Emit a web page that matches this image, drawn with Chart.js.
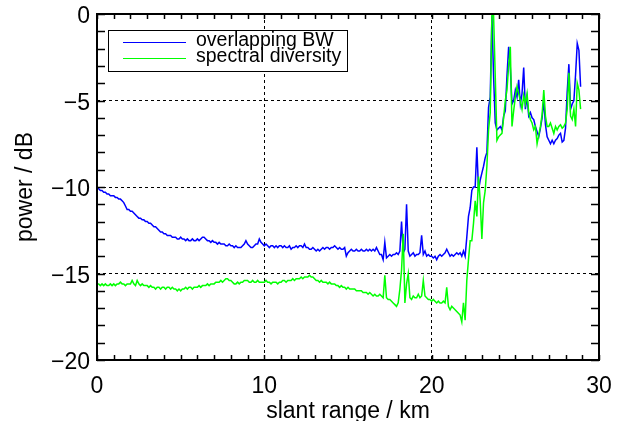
<!DOCTYPE html>
<html>
<head>
<meta charset="utf-8">
<script src="https://cdn.jsdelivr.net/npm/chart.js@4.4.1/dist/chart.umd.min.js"></script>
<style>
  html, body { margin: 0; padding: 0; background: #fff; }
  #wrap { width: 625px; height: 421px; }
</style>
</head>
<body>
<div id="wrap"><canvas id="powerChart" width="625" height="421"></canvas></div>
<script>
// samples every 0.1 km, one row per km (0.0 ... 28.9 km)
var sampleStepKm = 0.1;

var seriesNames = ['overlapping BW', 'spectral diversity'];

var overlapBwDb = [
  -10.0, -10.1, -10.2, -10.2, -10.3, -10.3, -10.4, -10.4, -10.5, -10.5,
  -10.5, -10.6, -10.6, -10.7, -10.7, -10.8, -10.9, -11.1, -11.3, -11.3,
  -11.4, -11.4, -11.5, -11.6, -11.7, -11.8, -11.8, -11.9, -11.9, -12.0,
  -12.0, -12.1, -12.1, -12.2, -12.3, -12.3, -12.4, -12.5, -12.6, -12.6,
  -12.7, -12.7, -12.8, -12.8, -12.8, -12.9, -12.9, -12.9, -13.0, -13.0,
  -12.9, -13.0, -13.0, -13.1, -13.0, -13.1, -13.1, -13.0, -13.1, -13.1,
  -13.0, -13.1, -13.0, -12.9, -12.9, -13.0, -13.1, -13.1, -13.2, -13.1,
  -13.2, -13.2, -13.3, -13.2, -13.3, -13.3, -13.3, -13.4, -13.4, -13.3,
  -13.4, -13.4, -13.5, -13.4, -13.5, -13.5, -13.5, -13.4, -13.3, -13.1,
  -13.3, -13.4, -13.5, -13.5, -13.4, -13.3, -13.3, -13.0, -13.2, -13.3,
  -13.4, -13.3, -13.4, -13.5, -13.4, -13.4, -13.5, -13.4, -13.5, -13.4,
  -13.4, -13.5, -13.4, -13.5, -13.5, -13.4, -13.6, -13.5, -13.5, -13.4,
  -13.5, -13.4, -13.4, -13.5, -13.3, -13.5, -13.5, -13.6, -13.6, -13.5,
  -13.6, -13.7, -13.6, -13.7, -13.6, -13.5, -13.6, -13.5, -13.5, -13.6,
  -13.5, -13.5, -13.4, -13.5, -13.6, -13.5, -13.6, -13.6, -13.5, -14.0,
  -13.8, -13.7, -13.6, -13.7, -13.7, -13.6, -13.7, -13.7, -13.6, -13.7,
  -13.7, -13.6, -13.7, -13.6, -13.7, -13.6, -13.7, -13.5, -13.7, -13.9,
  -13.9, -14.2, -13.2, -14.1, -14.0, -13.9, -14.0, -13.9, -13.9, -13.8,
  -13.9, -13.7, -12.0, -13.8, -13.6, -11.0, -13.7, -14.0, -13.9, -13.8,
  -14.0, -13.9, -13.9, -13.8, -12.8, -13.9, -13.7, -14.0, -13.9, -14.0,
  -14.0, -14.1, -14.0, -14.2, -14.0, -13.9, -14.0, -13.9, -13.8, -13.6,
  -13.8, -14.0, -13.9, -14.0, -13.9, -13.8, -13.9, -13.8, -14.0, -13.7,
  -14.0, -12.9, -11.7, -11.2, -10.2, -10.0, -10.0, -7.7, -10.2, -9.6,
  -9.2, -8.8, -8.3, -8.0, -5.4, -4.8, -0.1, -3.6, -6.3, -6.7,
  -6.6, -6.5, -6.7, -5.9, -5.6, -3.6, -1.9, -3.1, -5.2, -5.0,
  -4.4, -4.8, -3.8, -5.2, -4.6, -3.1, -5.5, -4.8, -5.9, -5.7,
  -6.0, -6.1, -6.5, -6.8, -7.1, -6.6, -6.0, -5.0, -6.4, -7.1,
  -7.3, -7.5, -7.3, -7.5, -7.3, -7.2, -7.0, -6.9, -7.4, -7.3,
  -6.6, -4.5, -2.9, -5.5, -5.2, -5.0, -3.5, -1.7, -2.1, -4.2
];

var spectralDivDb = [
  -15.6, -15.6, -15.7, -15.6, -15.7, -15.6, -15.7, -15.7, -15.6, -15.7,
  -15.6, -15.7, -15.6, -15.6, -15.5, -15.6, -15.6, -15.7, -15.6, -15.6,
  -15.6, -15.4, -15.6, -15.7, -15.4, -15.6, -15.7, -15.6, -15.7, -15.7,
  -15.7, -15.8, -15.7, -15.8, -15.8, -15.9, -15.8, -15.8, -15.9, -15.8,
  -15.8, -15.9, -15.8, -15.8, -15.9, -15.8, -15.9, -15.9, -16.0, -15.9,
  -16.0, -15.9, -15.9, -15.8, -15.9, -15.8, -15.8, -15.9, -15.8, -15.8,
  -15.8, -15.7, -15.8, -15.7, -15.7, -15.7, -15.6, -15.7, -15.6, -15.6,
  -15.6, -15.5, -15.5, -15.5, -15.4, -15.5, -15.4, -15.3, -15.3, -15.4,
  -15.4, -15.5, -15.6, -15.6, -15.5, -15.6, -15.5, -15.5, -15.4, -15.4,
  -15.4, -15.5, -15.5, -15.4, -15.5, -15.5, -15.4, -15.5, -15.5, -15.5,
  -15.5, -15.4, -15.5, -15.5, -15.6, -15.5, -15.5, -15.5, -15.6, -15.5,
  -15.5, -15.4, -15.4, -15.5, -15.4, -15.4, -15.4, -15.3, -15.4, -15.3,
  -15.3, -15.3, -15.2, -15.3, -15.2, -15.2, -15.2, -15.1, -15.2, -15.2,
  -15.3, -15.4, -15.4, -15.5, -15.4, -15.5, -15.5, -15.5, -15.6, -15.5,
  -15.6, -15.6, -15.6, -15.7, -15.7, -15.8, -15.7, -15.8, -15.8, -15.9,
  -15.8, -15.9, -15.9, -15.9, -15.9, -16.0, -16.0, -16.0, -16.0, -16.1,
  -16.1, -16.1, -16.2, -16.1, -16.2, -16.3, -16.2, -16.3, -16.3, -16.2,
  -16.3, -16.4, -15.1, -16.4, -16.5, -16.5, -16.6, -16.7, -16.8, -16.9,
  -16.7, -15.9, -14.8, -12.7, -16.7, -15.6, -15.0, -16.4, -16.5, -16.3,
  -16.4, -16.4, -16.2, -16.4, -16.3, -15.4, -16.3, -16.4, -16.5, -16.5,
  -16.6, -16.5, -16.6, -16.7, -16.6, -16.7, -16.7, -16.6, -16.7, -15.8,
  -16.9, -17.1, -16.9, -17.0, -17.1, -17.2, -17.3, -17.4, -17.8, -16.7,
  -17.7, -15.4, -14.2, -13.1, -13.1, -12.1, -10.8, -11.7, -9.4, -10.8,
  -13.0, -10.9, -10.2, -8.8, -6.7, -5.7, -0.1, -0.1, -3.6, -7.3,
  -7.1, -7.0, -6.9, -6.0, -5.0, -4.4, -3.0, -1.9, -6.5, -5.6,
  -4.8, -4.2, -4.6, -5.0, -5.5, -4.7, -5.2, -4.6, -5.7, -6.1,
  -6.3, -6.7, -6.5, -7.5, -7.0, -6.5, -5.8, -4.4, -5.9, -6.5,
  -6.5, -6.3, -6.6, -6.9, -6.5, -6.7, -6.5, -6.4, -6.6, -6.5,
  -6.3, -5.5, -3.4, -5.9, -6.1, -5.5, -6.5, -4.0, -4.4, -5.5
];

var xTickValues = [0, 10, 20, 30];
var yTickValues = [-20, -15, -10, -5, 0];

var FONT = "'Liberation Sans', Arial, Helvetica, sans-serif";

function toPoints(values) {
  return values.map(function (v, i) {
    return { x: Math.round(i * sampleStepKm * 10) / 10, y: v };
  });
}

// frame, inward minor ticks and the boxed legend
var framePlugin = {
  id: 'idlFrame',
  afterDatasetsDraw: function (chart) {
    var ctx = chart.ctx;
    var a = chart.chartArea;
    var sx = chart.scales.x, sy = chart.scales.y;
    ctx.save();
    ctx.strokeStyle = '#000';
    ctx.lineWidth = 1.5;
    ctx.beginPath();
    for (var k = sx.min; k <= sx.max; k++) {
      var px = Math.round(sx.getPixelForValue(k)) + 0.5;
      ctx.moveTo(px, a.bottom); ctx.lineTo(px, a.bottom - 5);
      ctx.moveTo(px, a.top); ctx.lineTo(px, a.top + 5);
    }
    for (var d = sy.min; d <= sy.max; d++) {
      var py = Math.round(sy.getPixelForValue(d)) + 0.5;
      ctx.moveTo(a.left, py); ctx.lineTo(a.left + 8, py);
      ctx.moveTo(a.right, py); ctx.lineTo(a.right - 8, py);
    }
    ctx.stroke();
    ctx.lineWidth = 2;
    ctx.strokeRect(a.left, a.top, a.right - a.left, a.bottom - a.top);

    // legend
    var lx = a.left + 11, ly = a.top + 16;
    ctx.fillStyle = '#fff';
    ctx.fillRect(lx, ly, 239, 41);
    ctx.lineWidth = 1;
    ctx.strokeRect(lx + 0.5, ly + 0.5, 239, 41);
    ctx.font = '19.5px ' + FONT;
    ctx.textBaseline = 'alphabetic';
    ctx.textAlign = 'left';
    var ds = chart.data.datasets;
    [0, 1].forEach(function (idx, row) {
      var yLine = ly + 12.5 + row * 16;
      ctx.strokeStyle = ds[idx].borderColor;
      ctx.lineWidth = 1;
      ctx.beginPath();
      ctx.moveTo(lx + 15, yLine);
      ctx.lineTo(lx + 78, yLine);
      ctx.stroke();
      ctx.fillStyle = '#000';
      ctx.fillText(ds[idx].label, lx + 88, ly + 16 + row * 16);
    });
    ctx.restore();
  }
};

var config = {
  type: 'line',
  data: {
    datasets: [
      {
        label: seriesNames[0],
        data: toPoints(overlapBwDb),
        borderColor: '#0000ff',
        borderWidth: 1.5,
        pointRadius: 0,
        tension: 0,
        order: 1
      },
      {
        label: seriesNames[1],
        data: toPoints(spectralDivDb),
        borderColor: '#00ff00',
        borderWidth: 1.5,
        pointRadius: 0,
        tension: 0,
        order: 0
      }
    ]
  },
  options: {
    responsive: false,
    devicePixelRatio: 1,
    animation: false,
    events: [],
    layout: { padding: { top: 14, right: 26, left: 0, bottom: 0 } },
    plugins: {
      legend: { display: false },
      tooltip: { enabled: false }
    },
    scales: {
      x: {
        type: 'linear',
        min: 0,
        max: 30,
        afterFit: function (s) {
          s.height = 61;
          s.paddingLeft = 0; s.paddingRight = 0;
        },
        afterBuildTicks: function (s) {
          s.ticks = xTickValues.map(function (v) { return { value: v }; });
        },
        ticks: {
          color: '#000',
          font: { family: FONT, size: 23 },
          padding: 13,
          maxRotation: 0
        },
        grid: {
          drawTicks: false,
          lineWidth: 1,
          color: function (c) {
            var v = c.tick && c.tick.value;
            return (v > 0 && v < 30) ? '#000' : 'rgba(0,0,0,0)';
          }
        },
        border: { display: false, dash: [3, 3] },
        title: {
          display: true,
          text: 'slant range / km',
          color: '#000',
          font: { family: FONT, size: 23, lineHeight: 1 },
          padding: { top: 0, bottom: -2 }
        }
      },
      y: {
        type: 'linear',
        min: -20,
        max: 0,
        afterFit: function (s) {
          s.width = 97;
          s.paddingTop = 0; s.paddingBottom = 0;
        },
        afterBuildTicks: function (s) {
          s.ticks = yTickValues.map(function (v) { return { value: v }; });
        },
        ticks: {
          color: '#000',
          font: { family: FONT, size: 23 },
          padding: 7,
          labelOffset: 3,
          callback: function (v) { return v < 0 ? '\u2212' + Math.abs(v) : String(v); }
        },
        grid: {
          drawTicks: false,
          lineWidth: 1,
          color: function (c) {
            var v = c.tick && c.tick.value;
            return (v > -20 && v < 0) ? '#000' : 'rgba(0,0,0,0)';
          }
        },
        border: { display: false, dash: [3, 3] },
        title: {
          display: true,
          text: 'power / dB',
          color: '#000',
          font: { family: FONT, size: 23, lineHeight: 1 },
          padding: { top: 14, bottom: 0 }
        }
      }
    }
  },
  plugins: [framePlugin]
};

var ctx = document.getElementById('powerChart').getContext('2d');
var powerChart = new Chart(ctx, config);
</script>
</body>
</html>
